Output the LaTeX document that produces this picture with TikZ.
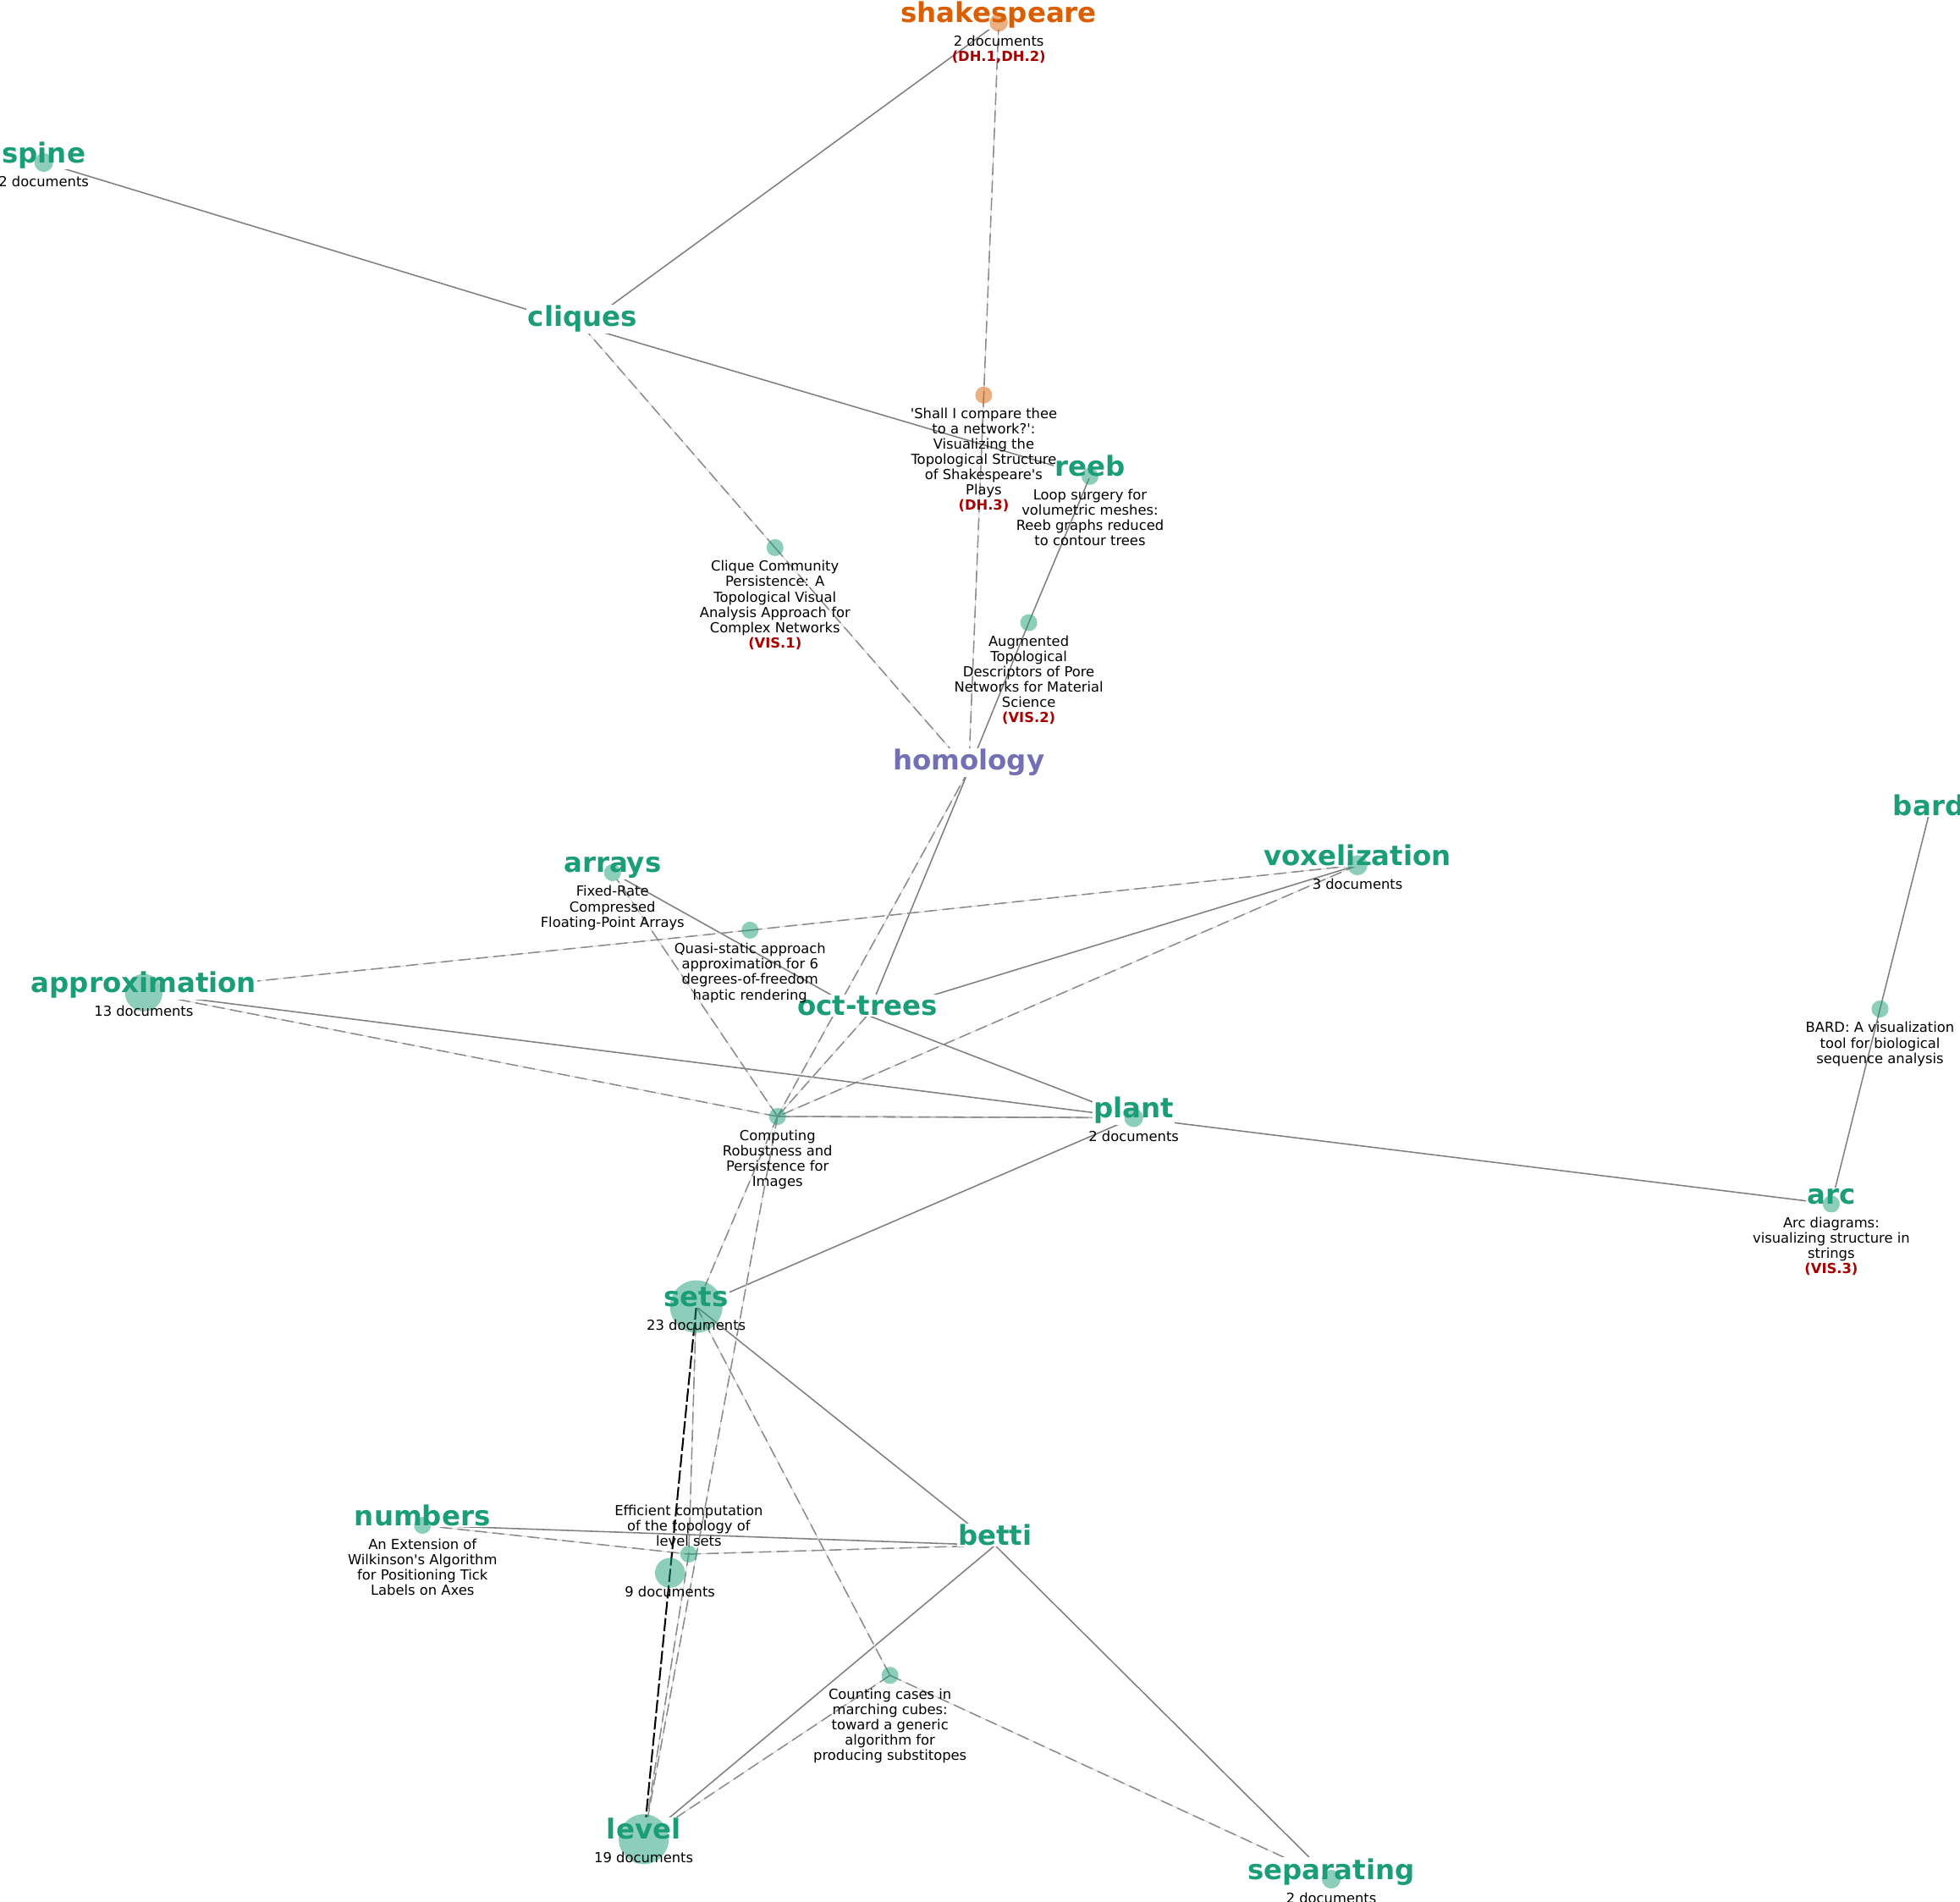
\documentclass[tikz,border=0pt]{standalone}
\usepackage{fontspec}
\setmainfont{DejaVu Sans}

\definecolor{kwgreen}{HTML}{1B9E77}
\definecolor{kworange}{HTML}{D95F02}
\definecolor{kwpurple}{HTML}{7570B3}
\definecolor{venuered}{rgb}{0.65,0,0}
\newcommand{\venue}[1]{{\bfseries\color{venuered}#1}}

\tikzstyle{keyword}=[font=\fontsize{12.5}{15}\selectfont\bfseries,fill=white,inner sep=0.5pt,anchor=base]
\tikzstyle{info}=[font=\fontsize{6.3}{6.95}\selectfont,align=center,inner sep=0pt,anchor=north,yshift=-5.8pt]
\tikzstyle{edge} = [draw,black!50,line width=0.6pt]
\tikzstyle{faint edge} = [draw,black!18,line width=0.3pt]
\tikzstyle{dashed edge} = [draw,black!45,line width=0.6pt,dash pattern=on 5.5pt off 2.5pt]
\tikzstyle{strong edge} = [draw,black,line width=0.8pt,dash pattern=on 6pt off 1.5pt]

\begin{document}
\begin{tikzpicture}[x=0.02cm,y=-0.02cm]
\useasboundingbox (0,0) rectangle (1568,1521);
\foreach \name/\px/\py in {shakespeare/799/18, spine/35/130, cliques/466/261,
                           shallI/787/316, reeb/872/381, community/620/438,
                           augmented/823/498, homology/775/616, bard/1543/652,
                           voxelization/1086/692, arrays/490/698, quasi/600/744,
                           approximation/115/794, bardpaper/1504/807, octtrees/694/812,
                           computing/622/893, plant/907/894, arc/1465/963,
                           sets/557/1045, numbers/338/1220, betti/796/1236,
                           efficient/551/1243, ninedocs/536/1258, counting/712/1340,
                           level/515/1471, separating/1065/1503}{
  \coordinate (\name) at (\px,\py);
}
\foreach \source/\dest/\isdashed in {spine/cliques/0, cliques/shakespeare/0, cliques/reeb/0,
                                     cliques/community/1, community/homology/1,
                                     shakespeare/shallI/1, shallI/homology/1,
                                     reeb/augmented/0, augmented/homology/0,
                                     homology/octtrees/0, homology/computing/1,
                                     arrays/octtrees/0, arrays/computing/1,
                                     approximation/quasi/1, quasi/voxelization/1,
                                     voxelization/octtrees/0, voxelization/computing/1,
                                     approximation/plant/0, approximation/computing/1,
                                     octtrees/plant/0, octtrees/computing/1,
                                     computing/plant/0, computing/plant/1,
                                     plant/arc/0, plant/sets/0, bard/bardpaper/0, bardpaper/arc/0,
                                     computing/sets/1, computing/level/1,
                                     sets/efficient/1, efficient/level/1,
                                     numbers/efficient/1, efficient/betti/1,
                                     sets/betti/0, numbers/betti/0, betti/level/0, betti/separating/0,
                                     sets/counting/1, counting/level/1, counting/separating/1} {
  \ifnum\isdashed=0
  \path[edge] (\source) -- (\dest);
  \else
  \path[faint edge] (\source) -- (\dest);
  \path[dashed edge] (\source) -- (\dest);
  \fi
}
\path[strong edge] (sets) -- (level);

% keyword labels
\foreach \name/\word/\col in {shakespeare/shakespeare/kworange, homology/homology/kwpurple,
                              spine/spine/kwgreen, cliques/cliques/kwgreen, reeb/reeb/kwgreen,
                              bard/bard/kwgreen, voxelization/voxelization/kwgreen,
                              arrays/arrays/kwgreen, approximation/approximation/kwgreen,
                              octtrees/oct-trees/kwgreen, plant/plant/kwgreen, arc/arc/kwgreen,
                              sets/sets/kwgreen, numbers/numbers/kwgreen, betti/betti/kwgreen,
                              level/level/kwgreen, separating/separating/kwgreen}{
  \node[keyword,text=\col] (\name-label) at (\name) {\word};
}

% dots
\foreach \name/\r/\col in {shakespeare/7.3/kworange, shallI/6.8/kworange, spine/7.5/kwgreen,
                           reeb/6.8/kwgreen, community/6.8/kwgreen, augmented/6.8/kwgreen,
                           voxelization/8/kwgreen, arrays/6.8/kwgreen, quasi/6.8/kwgreen,
                           approximation/15/kwgreen, bardpaper/6.8/kwgreen, computing/6.8/kwgreen,
                           plant/7.5/kwgreen, arc/6.8/kwgreen, sets/21/kwgreen, numbers/6.8/kwgreen,
                           efficient/6.8/kwgreen, ninedocs/12/kwgreen, counting/6.8/kwgreen,
                           level/20/kwgreen, separating/7.5/kwgreen}{
  \fill[\col,fill opacity=0.5] (\name) circle[radius=\r*0.569pt];
}

% documents and titles
\foreach \name/\txt in {shakespeare/{2 documents\\\venue{(DH.1,DH.2)}},
                        spine/{2 documents},
                        shallI/{\textquotesingle Shall I compare thee\\to a network?\textquotesingle:\\Visualizing the\\Topological Structure\\of Shakespeare\textquotesingle s\\Plays\\\venue{(DH.3)}},
                        reeb/{Loop surgery for\\volumetric meshes:\\Reeb graphs reduced\\to contour trees},
                        community/{Clique Community\\Persistence: A\\Topological Visual\\Analysis Approach for\\Complex Networks\\\venue{(VIS.1)}},
                        augmented/{Augmented\\Topological\\Descriptors of Pore\\Networks for Material\\Science\\\venue{(VIS.2)}},
                        voxelization/{3 documents},
                        arrays/{Fixed-Rate\\Compressed\\Floating-Point Arrays},
                        quasi/{Quasi-static approach\\approximation for 6\\degrees-of-freedom\\haptic rendering},
                        approximation/{13 documents},
                        bardpaper/{BARD: A visualization\\tool for biological\\sequence analysis},
                        computing/{Computing\\Robustness and\\Persistence for\\Images},
                        plant/{2 documents},
                        arc/{Arc diagrams:\\visualizing structure in\\strings\\\venue{(VIS.3)}},
                        sets/{23 documents},
                        numbers/{An Extension of\\Wilkinson\textquotesingle s Algorithm\\for Positioning Tick\\Labels on Axes},
                        ninedocs/{9 documents},
                        counting/{Counting cases in\\marching cubes:\\toward a generic\\algorithm for\\producing substitopes},
                        level/{19 documents},
                        separating/{2 documents}}{
  \node[info] (\name-info) at (\name) {\txt};
}
\node[info,anchor=south,yshift=9.2pt] (efficient-info) at (efficient) {Efficient computation\\of the topology of\\level sets};
\end{tikzpicture}
\end{document}
